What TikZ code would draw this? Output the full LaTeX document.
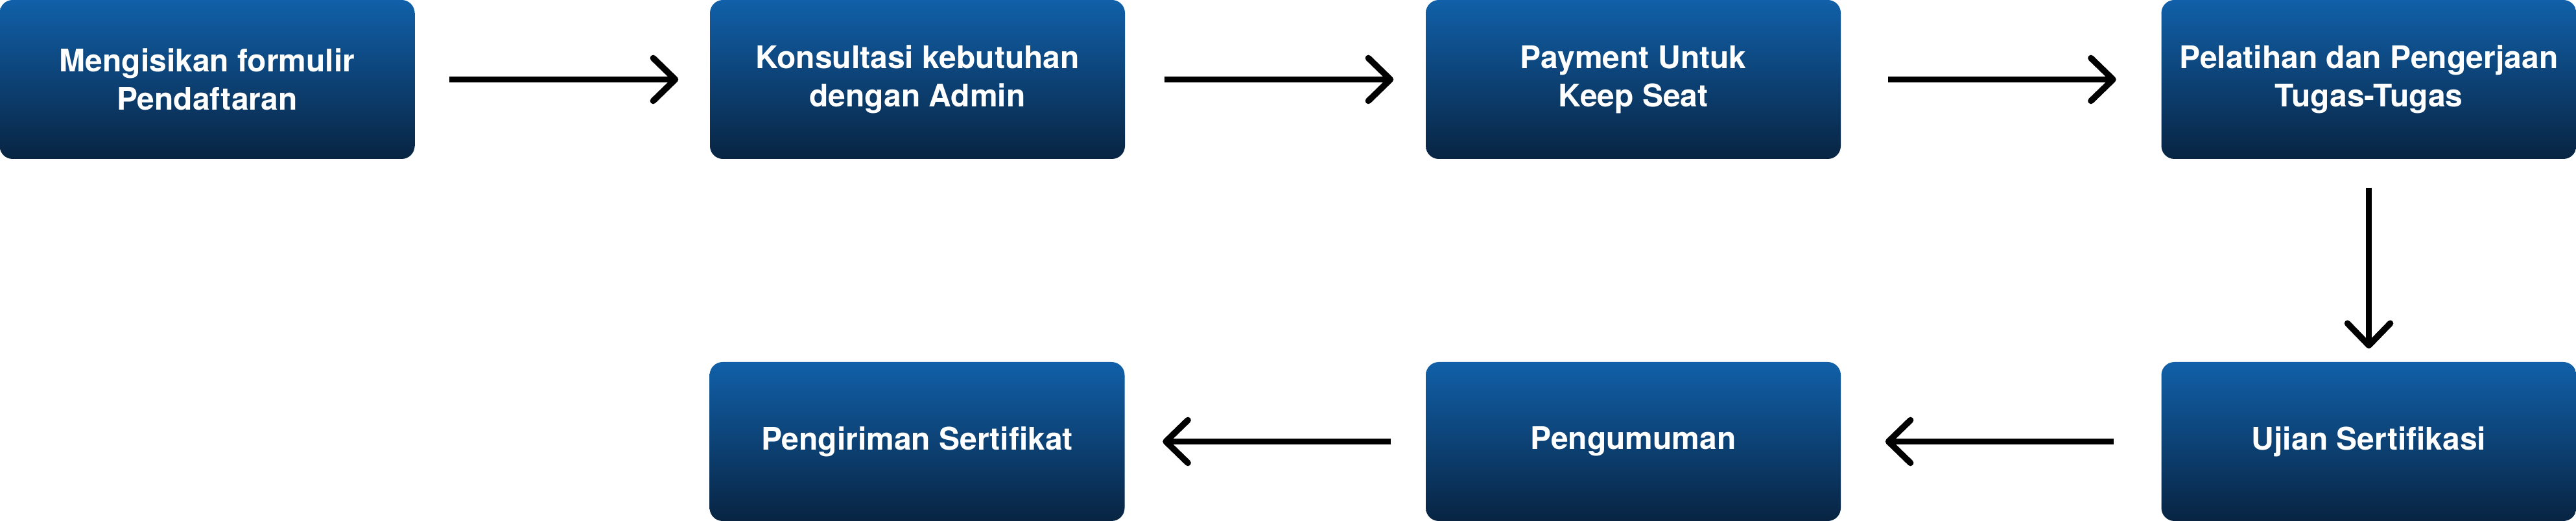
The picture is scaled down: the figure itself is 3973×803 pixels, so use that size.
\documentclass[tikz,border=0pt]{standalone}
\usepackage{fontspec}
\setmainfont{TeX Gyre Heros}
\usetikzlibrary{arrows.meta}
\definecolor{boxtop}{RGB}{17,96,169}
\definecolor{boxbot}{RGB}{8,36,66}
\tikzset{
  stepbox/.style={rounded corners=5pt,top color=boxtop,bottom color=boxbot,
    minimum width=160pt,minimum height=61.25pt,inner sep=0pt,align=center,
    text=white,font=\bfseries\fontsize{12}{14.75}\selectfont},
  flow/.style={line width=2.4pt,
    -{Straight Barb[length=8.5pt,width=16.5pt,line cap=round,line join=round]}}
}
\begin{document}
\begin{tikzpicture}[x=0.25pt,y=0.25pt]
\useasboundingbox (0,0) rectangle (3973,803);
\node[stepbox] (form) at (319.5,680.5){Mengisikan formulir\\Pendaftaran};
\node[stepbox] (konsul) at (1415,680.5){Konsultasi kebutuhan\\dengan Admin};
\node[stepbox] (bayar) at (2519,680.5){Payment Untuk\\Keep Seat};
\node[stepbox] (latih) at (3653.5,680.5){Pelatihan dan Pengerjaan\\Tugas-Tugas};
\node[stepbox] (ujian) at (3653.5,122.5){Ujian Sertifikasi};
\node[stepbox] (umum) at (2519,122.5){Pengumuman};
\node[stepbox] (kirim) at (1414.5,122.5){Pengiriman Sertifikat};
\draw[flow,shorten <=13.25pt,shorten >=12pt] (form.east) -- (konsul.west);
\draw[flow,shorten <=15pt,shorten >=12.25pt] (konsul.east) -- (bayar.west);
\draw[flow,shorten <=18pt,shorten >=17.25pt] (bayar.east) -- (latih.west);
\draw[flow,shorten <=11pt,shorten >=5pt] (latih.south) -- (ujian.north);
\draw[flow,shorten <=18.25pt,shorten >=17pt,yshift=-4.4pt] (ujian.west) -- (umum.east);
\draw[flow,shorten <=13.25pt,shorten >=14.5pt] (umum.west) -- (kirim.east);
\end{tikzpicture}
\end{document}
